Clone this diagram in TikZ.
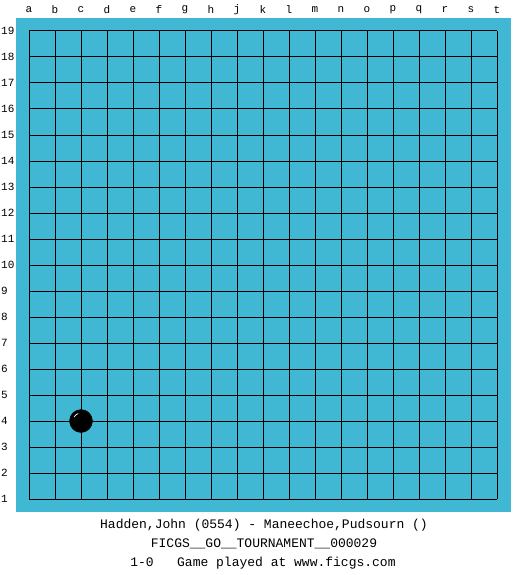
\documentclass[tikz,border=0pt]{standalone}
\usepackage{fontspec}
\setmonofont{Liberation Mono}
\definecolor{boardblue}{RGB}{64,184,212}

\begin{document}
\begin{tikzpicture}[x=1pt,y=-1pt,
  font=\ttfamily,
  board/.style={fill=boardblue,draw=none},
  gridline/.style={black,line width=1pt},
  coordlabel/.style={font=\ttfamily\fontsize{11}{13}\selectfont,inner sep=0pt},
  caption/.style={font=\ttfamily\fontsize{13}{15}\selectfont,inner sep=0pt},
  blackstone/.style={circle,fill=black,draw=black,minimum size=23pt,inner sep=0pt}]

  % Fix the page size
  \useasboundingbox[fill=white] (0,0) rectangle (525,575);

  % The board
  \fill[board] (16,18) rectangle (511,512);

  % Grid lines
  \foreach \i in {0,...,18} {
    \draw[gridline] (29+26*\i,31) -- (29+26*\i,499);
    \draw[gridline] (29,31+26*\i) -- (497,31+26*\i);
  }

  % Column and row labels
  \foreach \c [count=\i from 0] in {a,b,c,d,e,f,g,h,j,k,l,m,n,o,p,q,r,s,t}
    \node[coordlabel] (col-\c) at (29+26*\i,10) {\c};
  \foreach \r in {1,...,19}
    \node[coordlabel,anchor=west] (row-\r) at (1,499-26*\r+26) {\r};

  % Stone at c4
  \node[blackstone] (stone-c4) at (81,421) {};
  \draw[white,line width=0.7pt] (stone-c4.center) ++(210:8) arc[start angle=210,end angle=250,radius=8];

  % Game information
  \node[caption] (players) at (264,525) {Hadden,John (0554) - Maneechoe,Pudsourn ()};
  \node[caption] (event) at (264,544) {FICGS\_\_GO\_\_TOURNAMENT\_\_000029};
  \node[caption] (result) at (263,563) {1-0\ \ \ Game played at www.ficgs.com};
\end{tikzpicture}
\end{document}
